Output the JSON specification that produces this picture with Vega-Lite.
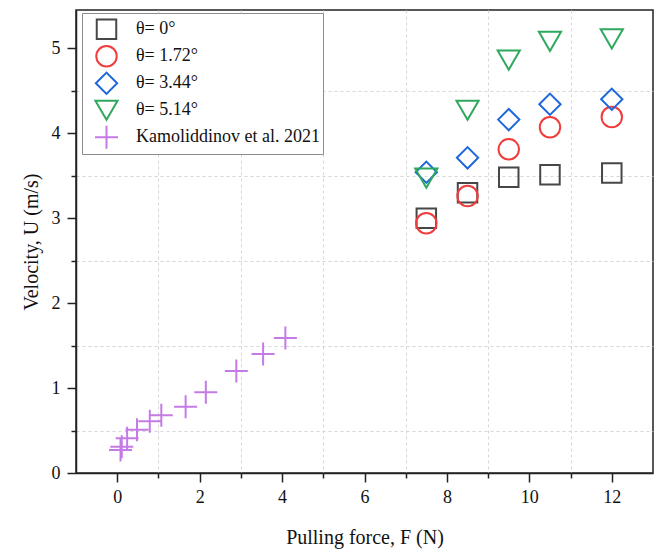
{
  "$schema": "https://vega.github.io/schema/vega-lite/v6.json",
  "width": 577,
  "height": 463,
  "autosize": {"type": "none"},
  "padding": {"left": 76, "top": 10, "right": 4, "bottom": 79},
  "background": "white",
  "config": {
    "font": "Liberation Serif",
    "view": {"stroke": "#222222", "strokeWidth": 1.5},
    "axis": {
      "labelFont": "Liberation Serif",
      "titleFont": "Liberation Serif",
      "labelColor": "#111111",
      "titleColor": "#111111",
      "labelFontSize": 18,
      "titleFontSize": 20,
      "titleFontWeight": "normal",
      "domainColor": "#222222",
      "tickColor": "#222222",
      "domainWidth": 1.5,
      "tickWidth": 1.5
    },
    "legend": {
      "labelFont": "Liberation Serif",
      "labelFontSize": 18,
      "labelColor": "#111111",
      "labelLimit": 400,
      "strokeColor": "#8c8c8c",
      "strokeWidth": 1,
      "fillColor": "white",
      "padding": 3,
      "rowPadding": 0,
      "clipHeight": 26.5,
      "symbolOffset": 9,
      "labelOffset": 17,
      "symbolStrokeWidth": 2
    }
  },
  "data": {
    "values": [
      {"F": 7.5, "U": 3.00, "series": "θ= 0°"},
      {"F": 8.5, "U": 3.30, "series": "θ= 0°"},
      {"F": 9.5, "U": 3.48, "series": "θ= 0°"},
      {"F": 10.5, "U": 3.51, "series": "θ= 0°"},
      {"F": 12, "U": 3.53, "series": "θ= 0°"},
      {"F": 7.5, "U": 2.94, "series": "θ= 1.72°"},
      {"F": 8.5, "U": 3.26, "series": "θ= 1.72°"},
      {"F": 9.5, "U": 3.81, "series": "θ= 1.72°"},
      {"F": 10.5, "U": 4.07, "series": "θ= 1.72°"},
      {"F": 12, "U": 4.19, "series": "θ= 1.72°"},
      {"F": 7.5, "U": 3.54, "series": "θ= 3.44°"},
      {"F": 8.5, "U": 3.71, "series": "θ= 3.44°"},
      {"F": 9.5, "U": 4.16, "series": "θ= 3.44°"},
      {"F": 10.5, "U": 4.34, "series": "θ= 3.44°"},
      {"F": 12, "U": 4.40, "series": "θ= 3.44°"},
      {"F": 7.5, "U": 3.47, "series": "θ= 5.14°"},
      {"F": 8.5, "U": 4.27, "series": "θ= 5.14°"},
      {"F": 9.5, "U": 4.86, "series": "θ= 5.14°"},
      {"F": 10.5, "U": 5.08, "series": "θ= 5.14°"},
      {"F": 12, "U": 5.11, "series": "θ= 5.14°"},
      {"F": 0.08, "U": 0.27, "series": "Kamoliddinov et al. 2021"},
      {"F": 0.11, "U": 0.31, "series": "Kamoliddinov et al. 2021"},
      {"F": 0.24, "U": 0.41, "series": "Kamoliddinov et al. 2021"},
      {"F": 0.48, "U": 0.51, "series": "Kamoliddinov et al. 2021"},
      {"F": 0.79, "U": 0.61, "series": "Kamoliddinov et al. 2021"},
      {"F": 1.07, "U": 0.68, "series": "Kamoliddinov et al. 2021"},
      {"F": 1.66, "U": 0.78, "series": "Kamoliddinov et al. 2021"},
      {"F": 2.15, "U": 0.95, "series": "Kamoliddinov et al. 2021"},
      {"F": 2.89, "U": 1.20, "series": "Kamoliddinov et al. 2021"},
      {"F": 3.54, "U": 1.40, "series": "Kamoliddinov et al. 2021"},
      {"F": 4.08, "U": 1.59, "series": "Kamoliddinov et al. 2021"}
    ]
  },
  "layer": [
    {
      "mark": {"type": "point", "opacity": 0},
      "encoding": {
        "x": {
          "field": "F", "type": "quantitative",
          "scale": {"domain": [-1, 13], "nice": false, "zero": false},
          "axis": {"orient": "bottom", "values": [1, 3, 5, 7, 9, 11], "labels": false, "title": null, "tickSize": 5, "grid": true, "gridDash": [3, 3], "gridColor": "#d6d6d6", "gridWidth": 1, "domain": false}
        },
        "y": {
          "field": "U", "type": "quantitative",
          "scale": {"domain": [0, 5.45], "nice": false, "zero": false},
          "axis": {"orient": "left", "values": [0.5, 1.5, 2.5, 3.5, 4.5], "labels": false, "title": null, "tickSize": 5, "grid": true, "gridDash": [3, 3], "gridColor": "#d6d6d6", "gridWidth": 1, "domain": false}
        }
      }
    },
    {
      "mark": {"type": "point", "filled": false, "strokeWidth": 2, "opacity": 1},
      "encoding": {
        "x": {
          "field": "F", "type": "quantitative",
          "scale": {"domain": [-1, 13], "nice": false, "zero": false},
          "axis": {"orient": "bottom", "values": [0, 2, 4, 6, 8, 10, 12], "title": "Pulling force, F (N)", "tickSize": 9, "labelPadding": 6, "titlePadding": 21, "grid": false}
        },
        "y": {
          "field": "U", "type": "quantitative",
          "scale": {"domain": [0, 5.45], "nice": false, "zero": false},
          "axis": {"orient": "left", "values": [0, 1, 2, 3, 4, 5], "title": "Velocity, U (m/s)", "tickSize": 9, "labelPadding": 7, "titlePadding": 10, "grid": false}
        },
        "color": {
          "field": "series", "type": "nominal",
          "scale": {
            "domain": ["θ= 0°", "θ= 1.72°", "θ= 3.44°", "θ= 5.14°", "Kamoliddinov et al. 2021"],
            "range": ["#474747", "#f03c3c", "#1f68dc", "#2ea85c", "#c47be6"]
          },
          "legend": {"orient": "none", "legendX": 6, "legendY": 3, "title": null, "encode": {"symbols": {"update": {"size": {"scale": "size", "field": "value"}}}}}
        },
        "shape": {
          "field": "series", "type": "nominal",
          "scale": {
            "domain": ["θ= 0°", "θ= 1.72°", "θ= 3.44°", "θ= 5.14°", "Kamoliddinov et al. 2021"],
            "range": ["square", "circle", "diamond", "triangle-down", "M-1,0L1,0M0,-1L0,1"]
          },
          "legend": {"orient": "none", "legendX": 6, "legendY": 3, "title": null}
        },
        "size": {
          "field": "series", "type": "nominal",
          "scale": {
            "domain": ["θ= 0°", "θ= 1.72°", "θ= 3.44°", "θ= 5.14°", "Kamoliddinov et al. 2021"],
            "range": [380, 529, 841, 729, 484]
          },
          "legend": {"orient": "none", "legendX": 6, "legendY": 3, "title": null}
        }
      }
    }
  ],
  "resolve": {"axis": {"x": "independent", "y": "independent"}}
}
